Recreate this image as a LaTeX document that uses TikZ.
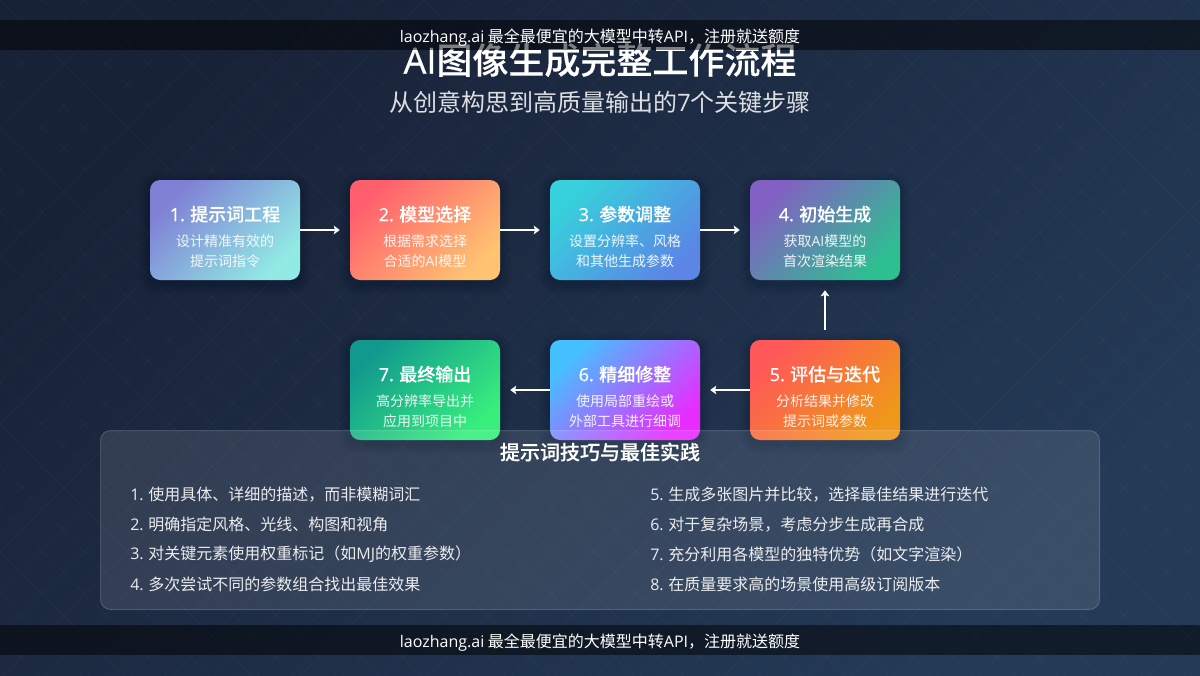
\documentclass[tikz,border=0pt]{standalone}
\usepackage{fontspec}
\setmainfont{Noto Sans CJK SC}
\newfontfamily\lat{Open Sans}
\newfontfamily\med{Noto Sans CJK SC Medium}[FakeBold=0.25]
\newfontfamily\latmed{Open Sans}[FakeBold=0.8]
\usetikzlibrary{arrows.meta}
\definecolor{bgA}{HTML}{182237}
\definecolor{bgB}{HTML}{243A57}
\definecolor{a1}{HTML}{7F7FD5}\definecolor{b1}{HTML}{91EAE4}
\definecolor{a2}{HTML}{FF5F6D}\definecolor{b2}{HTML}{FFC371}
\definecolor{a3}{HTML}{36D1DC}\definecolor{b3}{HTML}{5B86E5}
\definecolor{a4}{HTML}{8360C3}\definecolor{b4}{HTML}{2EBF91}
\definecolor{a5}{HTML}{FF5858}\definecolor{b5}{HTML}{F09819}
\definecolor{a6}{HTML}{45C0FF}\definecolor{b6}{HTML}{E82CFF}
\definecolor{a7}{HTML}{11998E}\definecolor{b7}{HTML}{38EF7D}
\tikzset{
  stepbox/.style={minimum width=112.5pt,minimum height=75pt,inner sep=0pt,rounded corners=7.5pt,align=center,text=white,font=\fontsize{10.5pt}{15pt}\selectfont},
  flow/.style={draw=white,line width=1.5pt,-{Stealth[length=4.5pt,width=6.5pt,inset=1pt]},shorten >=7.5pt},
  flowup/.style={flow,shorten <=7.5pt},
  tip/.style={anchor=west,inner sep=0pt,text=white,text opacity=.9,font=\fontsize{12pt}{14pt}\selectfont},
  banner/.style={fill=black,fill opacity=.5,draw=none},
  bannertext/.style={inner sep=0pt,text=white,font=\fontsize{12pt}{14pt}\selectfont},
}
% #1 name, #2 left, #3 top, #4 gradient start, #5 gradient end, #6 title, #7 first line, #8 second line
\newcommand{\stepnode}[8]{%
  \foreach \s in {1,...,9}{
    \fill[black,opacity=.012,rounded corners={7.5pt+\s*.6pt}]
      ({#2-\s*1.2},{#3-\s*1.2+4}) rectangle ({#2+150+\s*1.2},{#3+100+\s*1.2+4});
  }
  \node[stepbox,left color=#4,right color=#5,shading angle=45] (#1) at ({#2+75},{#3+50})
    {{\fontsize{13.5pt}{16pt}\med\selectfont\rule{0pt}{21.75pt}#6}\\[4.25pt]
     \pgfsetfillopacity{.9}#7\\
     #8};
}
\begin{document}
\begin{tikzpicture}[x=.75pt,y=-.75pt]
\useasboundingbox (0,0) rectangle (1200,675);
\shade[left color=bgA,right color=bgB,shading angle=45] (0,0) rectangle (1200,675);
\begin{scope}
  \clip (0,0) rectangle (1200,675);
  \foreach \k in {1,...,45}{
    \draw[white,opacity=.025,line width=.75pt] ({\k*42.426},0) -- (0,{\k*42.426});
  }
  \foreach \k in {-16,...,29}{
    \draw[white,opacity=.025,line width=.75pt] ({\k*42.426},0) -- ({\k*42.426+700},700);
  }
\end{scope}

\node[inner sep=0pt,text=white,font=\fontsize{27pt}{32pt}\med\selectfont] (title) at (600,60) {{\latmed AI}图像生成完整工作流程};
\node[inner sep=0pt,text=white,text opacity=.85,font=\fontsize{18pt}{22pt}\selectfont] (subtitle) at (600,102) {从创意构思到高质量输出的{\lat 7}个关键步骤};

\stepnode{s1}{150}{180}{a1}{b1}{{\latmed 1.} 提示词工程}{设计精准有效的}{提示词指令}
\stepnode{s2}{350}{180}{a2}{b2}{{\latmed 2.} 模型选择}{根据需求选择}{合适的{\lat AI}模型}
\stepnode{s3}{550}{180}{a3}{b3}{{\latmed 3.} 参数调整}{设置分辨率、风格}{和其他生成参数}
\stepnode{s4}{750}{180}{a4}{b4}{{\latmed 4.} 初始生成}{获取{\lat AI}模型的}{首次渲染结果}
\stepnode{s5}{750}{340}{a5}{b5}{{\latmed 5.} 评估与迭代}{分析结果并修改}{提示词或参数}
\stepnode{s6}{550}{340}{a6}{b6}{{\latmed 6.} 精细修整}{使用局部重绘或}{外部工具进行细调}
\stepnode{s7}{350}{340}{a7}{b7}{{\latmed 7.} 最终输出}{高分辨率导出并}{应用到项目中}

\draw[flow] (s1.east) -- (s2.west);
\draw[flow] (s2.east) -- (s3.west);
\draw[flow] (s3.east) -- (s4.west);
\draw[flowup] (s5.north) -- (s4.south);
\draw[flow] (s5.west) -- (s6.east);
\draw[flow] (s6.west) -- (s7.east);

\draw[rounded corners=7.5pt,fill=white,fill opacity=.1,draw=white,draw opacity=.17,line width=.75pt] (100.5,430.5) rectangle (1099.5,609.5);
\node[inner sep=0pt,text=white,font=\fontsize{15pt}{18pt}\med\selectfont] (ptitle) at (600,452) {提示词技巧与最佳实践};

\node[tip] (t1) at (130,494.6) {{\lat 1.} 使用具体、详细的描述，而非模糊词汇};
\node[tip] (t2) at (130,524.6) {{\lat 2.} 明确指定风格、光线、构图和视角};
\node[tip] (t3) at (130,554.6) {{\lat 3.} 对关键元素使用权重标记（如{\lat MJ}的权重参数）};
\node[tip] (t4) at (130,584.6) {{\lat 4.} 多次尝试不同的参数组合找出最佳效果};
\node[tip] (t5) at (650,494.6) {{\lat 5.} 生成多张图片并比较，选择最佳结果进行迭代};
\node[tip] (t6) at (650,524.6) {{\lat 6.} 对于复杂场景，考虑分步生成再合成};
\node[tip] (t7) at (650,554.6) {{\lat 7.} 充分利用各模型的独特优势（如文字渲染）};
\node[tip] (t8) at (650,584.6) {{\lat 8.} 在质量要求高的场景使用高级订阅版本};

\fill[banner] (0,20) rectangle (1200,50);
\fill[banner] (0,625) rectangle (1200,655);
\node[bannertext] (bt) at (600,38) {{\lat laozhang.ai} 最全最便宜的大模型中转{\lat API}，注册就送额度};
\node[bannertext] (bb) at (600,643) {{\lat laozhang.ai} 最全最便宜的大模型中转{\lat API}，注册就送额度};
\end{tikzpicture}
\end{document}
